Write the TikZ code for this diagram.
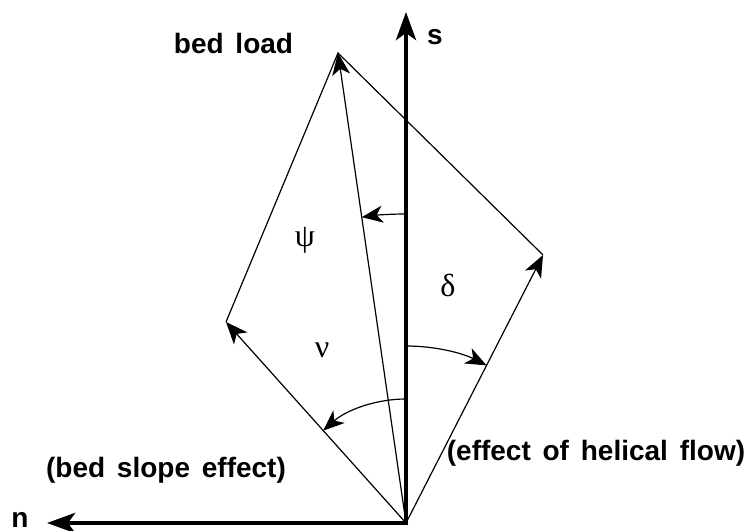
\documentclass[tikz,border=0pt]{standalone}
\usepackage{fontspec}
\setmainfont{Liberation Sans}
\newfontfamily\greekfont{Liberation Serif}
\usetikzlibrary{arrows.meta}
\tikzset{
  thinline/.style={line width=0.6pt, line join=miter},
  vecarrow/.style={thinline, -{Stealth[length=11pt, width=9pt, inset=3pt]}},
  arcarrow/.style={thinline, -{Stealth[length=10.5pt, width=8.5pt, inset=3pt]}},
  axis/.style={line width=2.3pt, -{Stealth[length=14pt, width=10pt, inset=3.5pt]}},
  lbl/.style={font=\fontsize{14}{16}\selectfont\bfseries, inner sep=0pt},
  greek/.style={font=\greekfont\fontsize{16}{18}\selectfont, inner sep=0pt}
}
\begin{document}
\begin{tikzpicture}[x=0.5pt, y=0.5pt]
\useasboundingbox (0,0) rectangle (751,531);
% points
\coordinate (O) at (406,8);
\coordinate (S) at (406,519);
\coordinate (N) at (47,8);
\coordinate (B) at (338,478);
\coordinate (L) at (226,209);
\coordinate (R) at (543,276);
% parallelogram sides
\draw[thinline] (L) -- (B) -- (R);
% vectors
\draw[vecarrow] (O) -- (B);
\draw[vecarrow] (O) -- (L);
\draw[vecarrow] (O) -- (R);
% axes
\draw[axis] ([xshift=-1.15pt]O) -- (N);
\draw[axis] ([yshift=-1.15pt]O) -- (S);
% angle arcs
\draw[arcarrow] ([shift={(90:309)}]O) arc[start angle=90, end angle=98.23, radius=309];
\draw[arcarrow] ([shift={(90:177)}]O) arc[start angle=90, end angle=62.93, radius=177];
\draw[arcarrow] ([shift={(90:124)}]O) arc[start angle=90, end angle=131.85, radius=124];
% labels
\node[lbl] (bedload) at (233.5,488) {bed\hspace{2pt} load};
\node[lbl] (slab) at (435,494) {s};
\node[lbl] (nlab) at (20,11) {n};
\node[lbl] (bse) at (166,61) {(bed\hspace{2pt} slope\hspace{2pt} effect)};
\node[lbl] (ehf) at (596,78) {(effect\hspace{2pt} of\hspace{2pt} helical\hspace{2pt} flow)};
\node[greek] (psi) at (305,291) {ψ};
\node[greek] (delta) at (448,246) {δ};
\node[greek] (nu) at (322,181) {ν};
\end{tikzpicture}
\end{document}
